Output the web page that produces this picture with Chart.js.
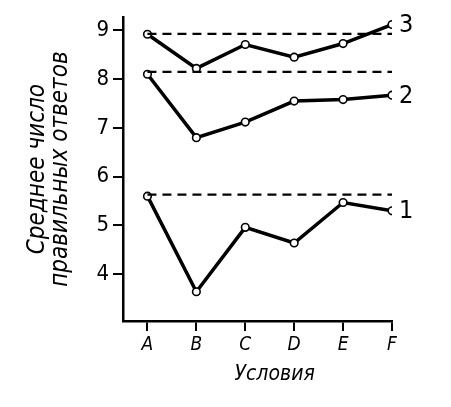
<!DOCTYPE html>
<html>
<head>
<meta charset="utf-8">
<script src="https://cdn.jsdelivr.net/npm/chart.js@4/dist/chart.umd.min.js"></script>
<style>
  html, body { margin: 0; padding: 0; background: #fff; }
  #wrap { width: 451px; height: 407px; }
</style>
</head>
<body>
<div id="wrap"><canvas id="chart"></canvas></div>
<script>
// conditions on the x axis
const categories = ['A', 'B', 'C', 'D', 'E', 'F']
// mean number of correct answers, one array per curve
const series1 = [5.6, 3.64, 4.96, 4.64, 5.47, 5.3]
const series2 = [8.1, 6.8, 7.12, 7.55, 7.58, 7.67]
const series3 = [8.92, 8.22, 8.71, 8.45, 8.73, 9.12]
// dashed reference level for each curve
const baselines = [5.63, 8.15, 8.93]
const seriesNames = ['1', '2', '3']
const yTicks = [4, 5, 6, 7, 8, 9]

const narrow = "'DejaVu Sans Condensed', sans-serif"

function toPoints(values) {
  return values.map((v, i) => ({ x: i, y: v }))
}

const curves = [series1, series2, series3]
const datasets = []

baselines.forEach((level) => {
  datasets.push({
    data: [{ x: 0, y: level }, { x: categories.length - 1, y: level }],
    borderColor: '#000',
    borderWidth: 2.2,
    borderDash: [9, 6],
    pointRadius: 0,
    fill: false
  })
})

curves.forEach((values, i) => {
  datasets.push({
    label: seriesNames[i],
    data: toPoints(values),
    borderColor: '#000',
    borderWidth: 3.5,
    pointRadius: 3.8,
    pointBackgroundColor: '#fff',
    pointBorderColor: '#000',
    pointBorderWidth: 1.6,
    fill: false,
    tension: 0
  })
})

// draws the curve numbers next to the last point and the x axis title
const labelsPlugin = {
  id: 'curveLabels',
  afterDatasetsDraw(chart) {
    const ctx = chart.ctx
    const xs = chart.scales.x
    const ys = chart.scales.y
    ctx.save()
    ctx.fillStyle = '#000'
    ctx.font = '25px ' + narrow
    ctx.textAlign = 'left'
    ctx.textBaseline = 'middle'
    curves.forEach((values, i) => {
      const last = values.length - 1
      ctx.fillText(seriesNames[i], xs.getPixelForValue(last) + 7, ys.getPixelForValue(values[last]) + 1)
    })
    ctx.font = 'italic 21px ' + narrow
    ctx.textAlign = 'center'
    ctx.fillText('Условия', xs.getPixelForValue(2.6), chart.height - 32)
    ctx.restore()
  }
}

new Chart(document.getElementById('chart'), {
  type: 'line',
  data: { datasets: datasets },
  options: {
    responsive: true,
    maintainAspectRatio: false,
    animation: false,
    layout: { padding: { top: 16, right: 59, left: 0, bottom: 0 } },
    plugins: { legend: { display: false }, tooltip: { enabled: false } },
    scales: {
      x: {
        type: 'linear',
        min: -0.5,
        max: categories.length - 1,
        afterFit(scale) { scale.height = 86 },
        afterBuildTicks(scale) { scale.ticks = categories.map((c, i) => ({ value: i })) },
        border: { color: '#000', width: 2.5 },
        grid: { drawOnChartArea: false, drawTicks: true, tickLength: 10, color: '#000', lineWidth: 2 },
        ticks: {
          color: '#000',
          padding: 3,
          maxRotation: 0,
          autoSkip: false,
          font: { family: narrow, size: 19, style: 'italic' },
          callback: (v) => categories[v]
        }
      },
      y: {
        type: 'linear',
        min: 3.04,
        max: 9.27,
        afterFit(scale) { scale.width = 123 },
        afterBuildTicks(scale) { scale.ticks = yTicks.map(v => ({ value: v })) },
        border: { color: '#000', width: 2.5 },
        grid: { drawOnChartArea: false, drawTicks: true, tickLength: 10, color: '#000', lineWidth: 2 },
        ticks: {
          color: '#000',
          padding: 4,
          font: { family: narrow, size: 22 }
        },
        title: {
          display: true,
          text: ['Среднее число', 'правильных ответов'],
          color: '#000',
          padding: { top: 26 },
          font: { family: narrow, size: 24, style: 'italic', lineHeight: 0.96 }
        }
      }
    }
  },
  plugins: [labelsPlugin]
})
</script>
</body>
</html>
